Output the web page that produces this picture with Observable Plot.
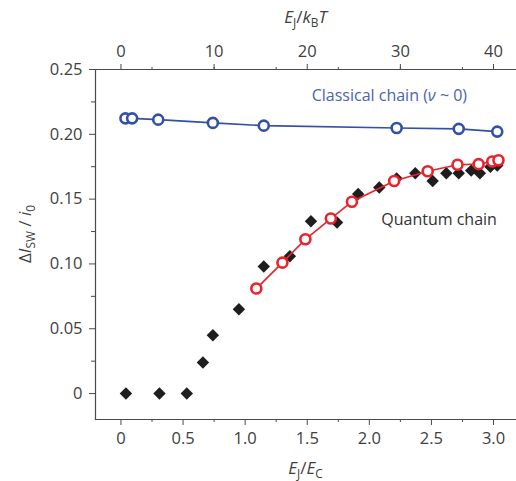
<!DOCTYPE html>
<html><head><meta charset="utf-8">
<script src="https://cdn.jsdelivr.net/npm/d3@7"></script>
<script src="https://cdn.jsdelivr.net/npm/@observablehq/plot@0.6"></script>
<style>body{margin:0;background:#fff} svg{display:block}</style>
</head><body><div id="chart"></div>
<script>
// Quantum chain (measured, black diamonds)
const quantumX = [0.04, 0.31, 0.53, 0.66, 0.74, 0.95, 1.15, 1.36, 1.53, 1.74, 1.91, 2.08, 2.22, 2.37, 2.51, 2.62, 2.72, 2.82, 2.89, 2.975, 3.03];
const quantumY = [0, 0, 0, 0.024, 0.045, 0.065, 0.098, 0.106, 0.133, 0.132, 0.154, 0.159, 0.166, 0.170, 0.164, 0.170, 0.170, 0.172, 0.170, 0.175, 0.176];
// Quantum chain (red open circles)
const redX = [1.09, 1.30, 1.485, 1.69, 1.86, 2.20, 2.47, 2.71, 2.88, 2.99, 3.04];
const redY = [0.081, 0.101, 0.119, 0.135, 0.148, 0.164, 0.1715, 0.1765, 0.177, 0.179, 0.180];
// Classical chain (blue open circles)
const classicalX = [0.036, 0.09, 0.30, 0.74, 1.15, 2.22, 2.72, 3.03];
const classicalY = [0.2123, 0.2123, 0.2113, 0.2088, 0.2067, 0.2049, 0.2042, 0.2021];

const bottomTicks = [0, 0.5, 1.0, 1.5, 2.0, 2.5, 3.0];
const bottomMinor = [0.25, 0.75, 1.25, 1.75, 2.25, 2.75, 3.25];
const topTickLabels = [0, 10, 20, 30, 40];
const yTicks = [0, 0.05, 0.10, 0.15, 0.20, 0.25];
const yMinor = [0.025, 0.075, 0.125, 0.175, 0.225];
const ratio = 40 / 3; // E_J/k_BT per unit E_J/E_C (top axis 40 sits over bottom 3.0)

const annotations = [
  {x: 1.54, y: 0.2255, color: "#4a63b0", parts: [["Classical chain ("], ["ν", "i"], [" ~ 0)"]]},
  {x: 2.10, y: 0.130, color: "#333333", parts: [["Quantum chain"]]}
];

const blue = "#3350a6";
const red = "#e8232b";
const axisColor = "#4a4a4a";
const font = "Open Sans, sans-serif";

const classical = classicalX.map((x, i) => ({x, y: classicalY[i]}));
const quantum = quantumX.map((x, i) => ({x, y: quantumY[i]}));
const sim = redX.map((x, i) => ({x, y: redY[i]}));

const plot = Plot.plot({
  width: 516, height: 481,
  marginTop: 69, marginBottom: 62, marginLeft: 95, marginRight: 0,
  style: {fontFamily: font, fontSize: "16.5px", color: "#404040", background: "white", overflow: "visible"},
  x: {domain: [-0.205, 3.185]},
  y: {domain: [-0.02, 0.25]},
  marks: [
    Plot.frame({anchor: "left", stroke: axisColor, strokeWidth: 1.2}),
    Plot.frame({anchor: "bottom", stroke: axisColor, strokeWidth: 1.2}),
    Plot.frame({anchor: "top", stroke: axisColor, strokeWidth: 1.2}),
    Plot.axisX(bottomMinor.filter(d => d < 3.185), {anchor: "bottom", tickSize: 3, tickFormat: () => "", label: null, stroke: axisColor}),
    Plot.axisX(bottomTicks, {anchor: "bottom", tickSize: 6, tickPadding: 7, tickFormat: d => d === 0 ? "0" : d.toFixed(1), label: null, stroke: axisColor}),
    Plot.axisX(bottomMinor.filter(d => d < 3.185), {anchor: "top", tickSize: 3, tickFormat: () => "", label: null, stroke: axisColor}),
    Plot.axisX(topTickLabels.map(t => t / ratio), {anchor: "top", tickSize: 6, tickPadding: 7, tickFormat: d => String(Math.round(d * ratio)), label: null, stroke: axisColor}),
    Plot.axisY(yMinor, {anchor: "left", tickSize: 4, tickFormat: () => "", label: null, stroke: axisColor}),
    Plot.axisY(yTicks, {anchor: "left", tickSize: 6, tickPadding: 7, tickFormat: d => d === 0 ? "0" : d.toFixed(2), label: null, stroke: axisColor}),
    Plot.line(classical, {x: "x", y: "y", stroke: blue, strokeWidth: 1.6}),
    Plot.dot(classical, {x: "x", y: "y", r: 5, stroke: blue, strokeWidth: 2.6, fill: "white"}),
    Plot.dot(quantum, {x: "x", y: "y", symbol: "diamond2", r: 5.6, fill: "#1e1e1e", stroke: "none"}),
    Plot.line(sim, {x: "x", y: "y", stroke: red, strokeWidth: 1.6}),
    Plot.dot(sim, {x: "x", y: "y", r: 5, stroke: red, strokeWidth: 2.6, fill: "white"})
  ]
});

document.getElementById("chart").appendChild(plot);

// rich text (italics and subscripts) added with d3 at positions from Plot's scales
const svg = d3.select(plot);
const xs = plot.scale("x"), ys = plot.scale("y");
function rich(sel, parts, size) {
  let shifted = 0;
  for (const [t, st] of parts) {
    const ts = sel.append("tspan").text(t);
    if (st && st.includes("i")) ts.attr("font-style", "italic");
    const want = st && st.includes("s") ? 4 : 0;
    if (want !== shifted) { ts.attr("dy", want - shifted); shifted = want; }
    if (want) ts.attr("font-size", size * 0.7);
  }
}
function addText(x, y, parts, opts = {}) {
  const size = opts.size || 16;
  const t = svg.append("text")
    .attr("x", x).attr("y", y)
    .attr("font-family", font).attr("font-size", size)
    .attr("fill", opts.fill || "#404040")
    .attr("text-anchor", opts.anchor || "middle");
  if (opts.transform) t.attr("transform", opts.transform);
  rich(t, parts, size);
  return t;
}
const xMid = (xs.range[0] + xs.range[1]) / 2;
addText(xMid, 474, [["E", "i"], ["J", "s"], ["/"], ["E", "i"], ["C", "s"]], {size: 17});
addText(xMid, 23, [["E", "i"], ["J", "s"], ["/"], ["k", "i"], ["B", "s"], ["T", "i"]], {size: 17});
addText(0, 0, [["Δ"], ["I", "i"], ["SW", "s"], [" / "], ["i", "i"], ["0", "s"]], {size: 17, transform: "translate(31,234) rotate(-90)"});
for (const a of annotations) {
  addText(xs.apply(a.x), ys.apply(a.y), a.parts, {size: 16, fill: a.color, anchor: "start"});
}
</script>
</body></html>
